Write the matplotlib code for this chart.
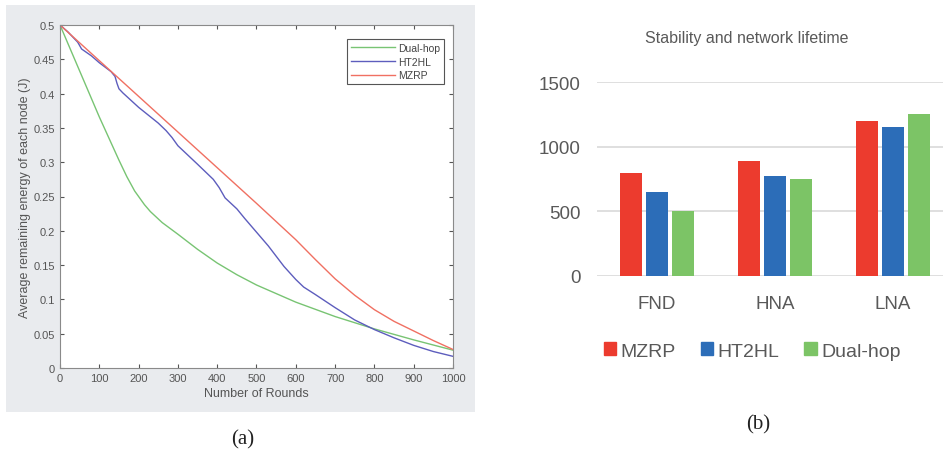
import matplotlib
matplotlib.use('Agg')
import matplotlib.pyplot as plt
from matplotlib.patches import Rectangle, Patch
import numpy as np

plt.rcParams['font.family'] = ['Liberation Sans', 'DejaVu Sans']

# (a) average remaining energy per node
dual_x = [0, 50, 100, 150, 170, 190, 200, 215, 230, 260, 300, 350, 400, 450, 500, 600, 700, 800,
          900, 1000]
dual_y = [0.5, 0.433, 0.366, 0.303, 0.279, 0.258, 0.250, 0.238, 0.228, 0.212, 0.195, 0.173, 0.153,
          0.136, 0.121, 0.096, 0.075, 0.057, 0.041, 0.026]
ht2hl_x = [0, 20, 45, 55, 80, 100, 130, 140, 145, 150, 160, 200, 250, 270, 285, 300, 350, 390, 405,
           420, 450, 470, 500, 530, 570, 600, 620, 650, 700, 750, 800, 850, 900, 950, 1000]
ht2hl_y = [0.5, 0.49, 0.475, 0.465, 0.455, 0.445, 0.432, 0.425, 0.415, 0.407, 0.401, 0.38, 0.357,
           0.346, 0.336, 0.324, 0.297, 0.275, 0.263, 0.248, 0.232, 0.218, 0.198, 0.178, 0.148,
           0.129, 0.118, 0.107, 0.088, 0.07, 0.056, 0.044, 0.033, 0.024, 0.017]
mzrp_x = [0, 100, 200, 300, 400, 500, 600, 650, 700, 750, 800, 850, 900, 950, 1000]
mzrp_y = [0.5, 0.448, 0.396, 0.344, 0.292, 0.240, 0.187, 0.158, 0.130, 0.106, 0.085, 0.068, 0.054,
          0.040, 0.027]

# (b) stability and network lifetime
categories = ['FND', 'HNA', 'LNA']
mzrp_vals = [800, 890, 1200]
ht2hl_vals = [650, 770, 1150]
dual_vals = [500, 750, 1250]

W, H = 943, 464
fig = plt.figure(figsize=(W / 100, H / 100), dpi=100)
fig.patch.set_facecolor('white')

# gray matlab window behind panel (a)
fig.add_artist(Rectangle((6 / W, 1 - 413 / H), 469 / W, 407 / H, transform=fig.transFigure,
                         facecolor='#e9ebee', edgecolor='none', zorder=0))

tick_col = '#555555'
ax1 = fig.add_axes([60 / W, 1 - 369 / H, 393 / W, 343 / H])
ax1.plot(dual_x, dual_y, color='#78c473', lw=1.0, label='Dual-hop')
ax1.plot(ht2hl_x, ht2hl_y, color='#5d5dbd', lw=1.0, label='HT2HL')
ax1.plot(mzrp_x, mzrp_y, color='#f07062', lw=1.0, label='MZRP')
ax1.set_xlim(0, 1000)
ax1.set_ylim(0, 0.5)
ax1.set_xticks(np.arange(0, 1001, 100))
ax1.set_yticks(np.arange(0, 0.51, 0.05))
ax1.set_yticklabels(['0', '0.05', '0.1', '0.15', '0.2', '0.25', '0.3', '0.35', '0.4', '0.45', '0.5'])
ax1.tick_params(direction='in', top=True, right=True, labelsize=8, colors=tick_col, length=3)
for s in ax1.spines.values():
    s.set_color('#8a8a8a')
    s.set_linewidth(0.8)
ax1.set_xlabel('Number of Rounds', fontsize=9, color=tick_col, labelpad=3)
ax1.set_ylabel('Average remaining energy of each node (J)', fontsize=9, color=tick_col, labelpad=2)
leg1 = ax1.legend(loc='upper right', fontsize=7.5, handlelength=4.2, handletextpad=0.3,
                  borderpad=0.4, labelspacing=0.35, fancybox=False, framealpha=1,
                  bbox_to_anchor=(0.99, 0.975))
leg1.get_frame().set_edgecolor('#555555')
leg1.get_frame().set_linewidth(0.8)
for t in leg1.get_texts():
    t.set_color('#444444')

# panel (b)
txt_col = '#595959'
ax2 = fig.add_axes([597 / W, 1 - 277 / H, (W - 597) / W, 194 / H])
x = np.arange(len(categories))
bw, off = 0.18, 0.22
ax2.bar(x - off, mzrp_vals, bw, color='#ec3b2e', label='MZRP', zorder=3)
ax2.bar(x, ht2hl_vals, bw, color='#2c6db8', label='HT2HL', zorder=3)
ax2.bar(x + off, dual_vals, bw, color='#7cc466', label='Dual-hop', zorder=3)
ax2.set_xlim(-0.508, 2.424)
ax2.set_ylim(0, 1500)
ax2.set_yticks([0, 500, 1000, 1500])
ax2.set_xticks(x)
ax2.set_xticklabels(categories)
ax2.grid(axis='y', color='#d9d9d9', lw=1.2, zorder=0)
for s in ax2.spines.values():
    s.set_visible(False)
ax2.tick_params(axis='both', length=0, labelsize=13.5, colors=txt_col)
ax2.tick_params(axis='x', pad=14)
ax2.tick_params(axis='y', pad=12)
handles = [Patch(color='#ec3b2e', label='MZRP'), Patch(color='#2c6db8', label='HT2HL'),
           Patch(color='#7cc466', label='Dual-hop')]
leg2 = fig.legend(handles=handles, loc='center', bbox_to_anchor=(752 / W, 1 - 352 / H), ncol=3,
                  fontsize=14, frameon=False, handlelength=0.65, handleheight=0.65,
                  handletextpad=0.2, columnspacing=1.3)
for t in leg2.get_texts():
    t.set_color(txt_col)
fig.text(747 / W, 1 - 38 / H, 'Stability and network lifetime', ha='center', va='center',
         fontsize=11.5, color=txt_col)

fig.text(243 / W, 1 - 440 / H, '(a)', ha='center', va='center', fontsize=15,
         family=['Liberation Serif', 'DejaVu Serif'], color='#222222')
fig.text(758 / W, 1 - 425 / H, '(b)', ha='center', va='center', fontsize=15,
         family=['Liberation Serif', 'DejaVu Serif'], color='#222222')

fig.savefig('out.png', dpi=100)
